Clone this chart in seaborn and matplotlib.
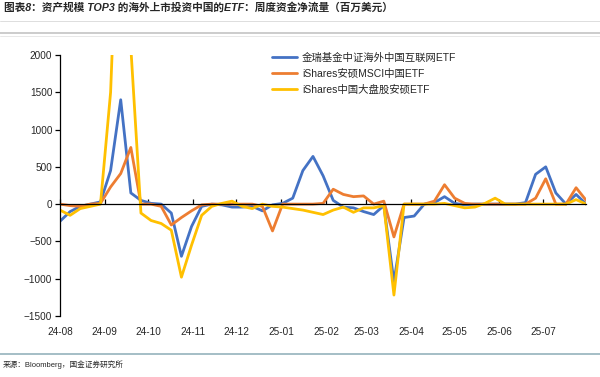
import pandas as pd
import matplotlib.pyplot as plt
import matplotlib.dates as mdates
from matplotlib.lines import Line2D
import seaborn as sns

# weekly net flows, USD mn
weeks = pd.date_range("2024-08-01", periods=53, freq="7D")

kweb = [-230, -100, -30, 0, 30, 450, 1400, 150, 50, 10,
        0, -120, -700, -300, -30, 0, -10, -40, -40, -30,
        -90, -10, 10, 80, 450, 640, 380, 50, -40, -50,
        -100, -140, -20, -1040, -180, -160, 0, 20, 100, 10,
        -10, 0, 0, 0, 0, 0, 20, 400, 500, 150,
        0, 130, 0]
mchi = [0, -20, -30, 0, 10, 230, 410, 760, 0, 0,
        -30, -280, -180, -90, -10, 0, 0, 0, 0, 0,
        -30, -360, 0, 0, 0, 0, 10, 200, 130, 100,
        110, 0, 40, -440, 0, 0, 0, 40, 260, 80,
        10, 0, 0, 0, 0, 0, 0, 80, 340, 0,
        0, 220, 50]
fxi = [-80, -150, -60, -30, 0, 1500, 5000, 2100, -120, -220,
       -260, -350, -980, -550, -150, -30, 10, 40, -30, -60,
       0, -30, -40, -60, -80, -110, -140, -80, -40, -110,
       -50, -50, -20, -1220, 0, 0, 0, 0, 10, -20,
       -50, -40, 10, 80, 0, 0, 0, 0, 0, 0,
       0, 60, 0]

names = ["金瑞基金中证海外中国互联网ETF", "iShares安硕MSCI中国ETF", "iShares中国大盘股安硕ETF"]
colors = ["#4472C4", "#ED7D31", "#FFC000"]

month_ticks = pd.date_range("2024-08-01", "2025-07-01", freq="MS")
tick_labels = [d.strftime("%y-%m") for d in month_ticks]

df = pd.DataFrame({
    "date": list(weeks) * 3,
    "flow": kweb + mchi + fxi,
    "etf": [names[0]] * len(weeks) + [names[1]] * len(weeks) + [names[2]] * len(weeks),
})

sns.set_theme(style="white")
plt.rcParams['font.family'] = ['Liberation Sans', 'Noto Sans CJK SC']

fig = plt.figure(figsize=(6, 3.77), dpi=100)
ax = fig.add_axes([0.1, 0.162, 0.877, 0.692])

sns.lineplot(data=df, x="date", y="flow", hue="etf", hue_order=names,
             palette=colors, linewidth=2.0, ax=ax,
             solid_joinstyle='round', solid_capstyle='round')

ax.set_ylim(-1500, 2000)
ax.set_yticks(range(-1500, 2001, 500))
ax.set_xlim(weeks[0], weeks[-1])
ax.set_xlabel('')
ax.set_ylabel('')

for s in ['top', 'right']:
    ax.spines[s].set_visible(False)
ax.spines['left'].set_color('black')
ax.spines['left'].set_linewidth(0.9)
ax.spines['bottom'].set_position(('data', 0))
ax.spines['bottom'].set_color('black')
ax.spines['bottom'].set_linewidth(0.9)

# zero line carries the month ticks, labels sit at the bottom
ax.set_xticks(month_ticks)
ax.tick_params(axis='x', bottom=True, direction='in', length=3.5, width=0.9,
               color='black', labelbottom=False)
ax.tick_params(axis='y', left=True, direction='out', length=3.5, width=0.9,
               color='black', labelsize=7.2, pad=2)

sec = ax.secondary_xaxis('bottom')
sec.set_xticks(mdates.date2num(month_ticks), tick_labels)
sec.spines['bottom'].set_visible(False)
sec.tick_params(length=0, labelsize=7.2, pad=8)

sns.move_legend(ax, 'upper left', bbox_to_anchor=(0.385, 1.045), title=None,
                frameon=False, fontsize=7.5, handlelength=2.4,
                labelspacing=0.55, handletextpad=0.5)

fig.text(0.007, 0.979, "图表8：资产规模 TOP3 的海外上市投资中国的ETF：周度资金净流量（百万美元）",
         fontsize=7.7, fontweight='bold', style='italic', va='center', ha='left')
fig.text(0.005, 0.032, "来源：Bloomberg，国金证券研究所", fontsize=5.5, va='center', ha='left')

for y, c, w in [(1 - 21 / 377, '#d8d8d8', 0.6), (1 - 33 / 377, '#c4c4c4', 1.2),
                (1 - 36 / 377, '#e4e4e4', 0.6), (1 - 354 / 377, '#9db9c1', 1.3)]:
    fig.add_artist(Line2D([0, 1], [y, y], transform=fig.transFigure, color=c, linewidth=w))

fig.savefig("out.png", dpi=100)
